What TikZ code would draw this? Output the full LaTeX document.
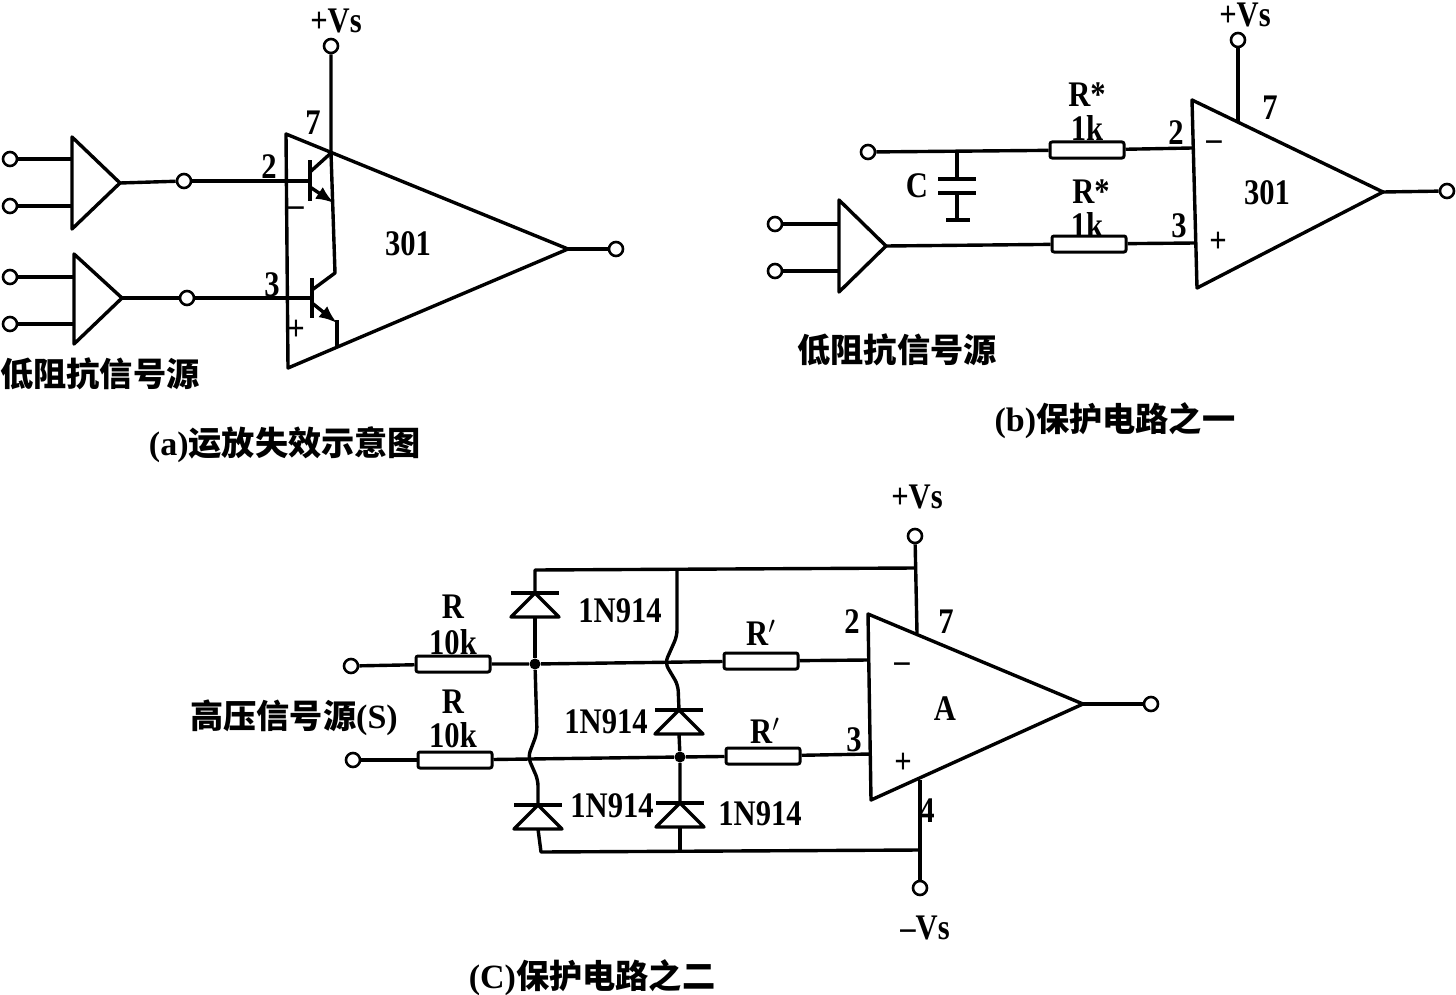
\documentclass[tikz,border=0pt]{standalone}
\usepackage{fontspec}
\usetikzlibrary{arrows.meta}
\setmainfont[FakeStretch=0.85]{Liberation Serif}
\newfontfamily\cjkfont{Noto Sans CJK SC}
\newfontfamily\capfont{Liberation Serif}
\newcommand{\capmark}[1]{{\fontsize{17}{17}\selectfont\capfont\bfseries #1}}
\tikzset{
    wire/.style={line width=1.7pt},
    bump/.style={wire, rounded corners=3pt},
    term/.style={circle, draw, line width=1.3pt, fill=white, inner sep=0pt, minimum size=7pt},
    dot/.style={circle, fill=black, inner sep=0pt, minimum size=5.5pt},
    res/.style={draw, line width=1.5pt, rounded corners=1pt, inner sep=0pt, minimum width=37pt, minimum height=8pt},
    lbl/.style={inner sep=0pt, font=\fontsize{18}{18}\selectfont\bfseries},
    cjk/.style={inner sep=0pt, font=\fontsize{16.6}{17}\selectfont\bfseries\cjkfont},
    diode/.pic={
        \draw[wire] (-24,0) -- (24,0);
        \draw[wire, line join=round] (0,0) -- (24,24) -- (-24,24) -- cycle;
        \coordinate (-top) at (0,0);
        \coordinate (-bot) at (0,24);
    }
}
\begin{document}
\begin{tikzpicture}[x=0.5pt,y=-0.5pt,line join=round]
        \useasboundingbox (0,0) rectangle (1456,995);

        \coordinate (aT) at (286,134);
        \coordinate (aB) at (288,368);
        \coordinate (aO) at (568,249);
        \coordinate (aP) at (331,153);
        \coordinate (aQ) at (337,347);
        \coordinate (bfA) at (120,183);
        \coordinate (bfB) at (122,298);
        \draw[wire] (aT) -- (aO) -- (aB) -- cycle;
        \draw[wire] (72,137) -- (bfA) -- (72,229) -- cycle;
        \draw[wire] (74,254) -- (bfB) -- (74,344) -- cycle;
        \foreach \name/\px/\py/\qx in {a1/10/159/72, a2/10/206/72, a3/10/277/74, a4/10/324/74} {
            \node[term] (\name) at (\px,\py) {};
            \draw[wire] (\name) -- (\qx,\py);
        }
        \node[term] (aIn) at (184,181) {};
        \node[term] (bIn) at (187,298) {};
        \node[term] (aOut) at (616,249) {};
        \node[term] (aVs) at (331,46) {};
        \coordinate (aBaseA) at (311,181);
        \coordinate (aBaseB) at (312,298);
        \draw[wire] (bfA) -- (aIn);
        \draw[wire] (aIn) -- (aBaseA);
        \draw[wire] (bfB) -- (bIn);
        \draw[wire] (bIn) -- (aBaseB);
        \draw[wire] (aO) -- (aOut);
        \draw[wire] (aVs) -- (aP) -- (335,273) -- (312,290);
        \draw[wire] (310,160) -- (310,201);
        \draw[wire] (312,278) -- (312,318);
        \draw[wire] (aP) -- (310,172);
        \draw[wire, -{Latex[length=9pt,width=7pt]}] (310,187) -- (334,203);
        \draw[wire, -{Latex[length=9pt,width=7pt]}] (312,303) -- (337,323);
        \draw[wire] (337,320) -- (aQ);
        \node[lbl] (aV) at (336,21) {+Vs};
        \node[lbl] (a7) at (313,123) {7};
        \node[lbl] (a2t) at (269,167) {2};
        \node[lbl] (a3t) at (272,285) {3};
        \node[lbl] (aMinus) at (296,212) {--};
        \node[lbl] (aPlus) at (296,330) {+};
        \node[lbl] (a301) at (408,244) {301};
        \node[cjk] (aSrc) at (100,374) {低阻抗信号源};
        \node[cjk] (aCap) at (285,445) {\capmark{(a)}运放失效示意图};

        \coordinate (bT) at (1192,100);
        \coordinate (bB) at (1197,288);
        \coordinate (bO) at (1383,192);
        \coordinate (bfC) at (886,246);
        \draw[wire] (bT) -- (bO) -- (bB) -- cycle;
        \draw[wire] (839,200) -- (bfC) -- (839,292) -- cycle;
        \node[term] (b1) at (775,224) {};
        \node[term] (b2) at (775,271) {};
        \draw[wire] (b1) -- (839,224);
        \draw[wire] (b2) -- (839,271);
        \node[term] (bIn1) at (868,152) {};
        \node[term] (bOut) at (1447,191) {};
        \node[term] (bVs) at (1238,40) {};
        \node[res] (Ra) at (1087,150) {};
        \node[res] (Rb) at (1089,244) {};
        \draw[wire] (bIn1) -- (Ra);
        \draw[wire] (Ra) -- (1192,148);
        \draw[wire] (bfC) -- (Rb);
        \draw[wire] (Rb) -- (1195,243);
        \draw[wire] (bO) -- (bOut);
        \draw[wire] (bVs) -- (1238,122);
        \draw[wire] (957,151) -- (957,179);
        \draw[wire] (938,179) -- (976,179);
        \draw[wire] (938,193) -- (976,193);
        \draw[wire] (957,193) -- (957,220);
        \draw[wire] (946,220) -- (970,220);
        \node[lbl] (bV) at (1245,15) {+Vs};
        \node[lbl] (b7) at (1270,108) {7};
        \node[lbl] (b2t) at (1176,133) {2};
        \node[lbl] (b3t) at (1179,226) {3};
        \node[lbl] (bMinus) at (1214,146) {--};
        \node[lbl] (bPlus) at (1218,242) {+};
        \node[lbl] (b301) at (1267,193) {301};
        \node[lbl] (bC) at (917,186) {C};
        \node[lbl] (RaN) at (1087,95) {R*};
        \node[lbl] (RaV) at (1087,128) {1k};
        \node[lbl] (RbN) at (1091,192) {R*};
        \node[lbl] (RbV) at (1087,225) {1k};
        \node[cjk] (bSrc) at (897,350) {低阻抗信号源};
        \node[cjk] (bCap) at (1115,421) {\capmark{(b)}保护电路之一};

        \coordinate (cT) at (868,614);
        \coordinate (cB) at (871,800);
        \coordinate (cO) at (1083,704);
        \draw[wire] (cT) -- (cO) -- (cB) -- cycle;
        \node[term] (cOut) at (1151,704) {};
        \node[term] (cVp) at (915,536) {};
        \node[term] (cVm) at (920,888) {};
        \node[term] (cIn1) at (351,666) {};
        \node[term] (cIn2) at (353,760) {};
        \node[res] (R1) at (453,664) {};
        \node[res] (R2) at (455,760) {};
        \node[res] (R3) at (761,661) {};
        \node[res] (R4) at (763,756) {};
        \node[dot] (J1) at (535,664) {};
        \node[dot] (J2) at (680,757) {};
        \pic (D1) at (535,593) {diode};
        \pic (D2) at (679,710) {diode};
        \pic (D3) at (538,805) {diode};
        \pic (D4) at (680,803) {diode};
        \draw[wire] (cO) -- (cOut);
        \draw[wire] (cVp) -- (917,633);
        \draw[wire] (920,780) -- (cVm);
        \draw[wire] (cIn1) -- (R1);
        \draw[wire] (R1) -- (J1) -- (R3);
        \draw[wire] (R3) -- (868,660);
        \draw[wire] (cIn2) -- (R2);
        \draw[wire] (R2) -- (J2) -- (R4);
        \draw[wire] (R4) -- (871,754);
        \draw[wire] (D1-top) -- (535,570) -- (915,568);
        \draw[wire] (D1-bot) -- (J1);
        \draw[bump] (J1) -- (537,733) -- (528,757) -- (538,780) -- (D3-top);
        \draw[wire] (D3-bot) -- (541,852) -- (920,850);
        \draw[bump] (677,569) -- (677,636) -- (665,663) -- (678,685) -- (D2-top);
        \draw[wire] (D2-bot) -- (J2) -- (D4-top);
        \draw[wire] (D4-bot) -- (680,851);
        \node[lbl] (cV) at (917,497) {+Vs};
        \node[lbl] (cVn) at (925,928) {--Vs};
        \node[lbl] (c7) at (946,622) {7};
        \node[lbl] (c2t) at (852,622) {2};
        \node[lbl] (c3t) at (854,740) {3};
        \node[lbl] (c4t) at (927,811) {4};
        \node[lbl] (cMinus) at (902,668) {--};
        \node[lbl] (cPlus) at (903,763) {+};
        \node[lbl] (cA) at (945,709) {A};
        \node[lbl] (R1n) at (453,607) {R};
        \node[lbl] (R1v) at (453,642) {10k};
        \node[lbl] (R2n) at (453,702) {R};
        \node[lbl] (R2v) at (453,735) {10k};
        \node[lbl] (R3n) at (761,633) {R$'$};
        \node[lbl] (R4n) at (765,731) {R$'$};
        \node[lbl] (D1n) at (620,611) {1N914};
        \node[lbl] (D2n) at (606,722) {1N914};
        \node[lbl] (D3n) at (612,806) {1N914};
        \node[lbl] (D4n) at (760,814) {1N914};
        \node[cjk] (cSrc) at (294,718) {高压信号源\capmark{(S)}};
        \node[cjk] (cCap) at (592,978) {\capmark{(C)}保护电路之二};
        \end{tikzpicture}
\end{document}
